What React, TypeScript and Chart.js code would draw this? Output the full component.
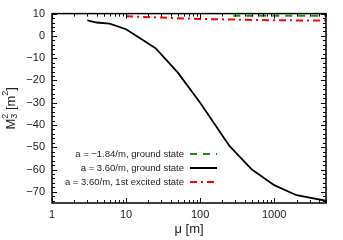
import { useEffect, useRef } from 'react';
import { Chart, registerables } from 'chart.js';
Chart.register(...registerables);

const muGreen = [280, 600, 1000, 2000, 5000];
const m2Green = [9.0, 9.0, 9.0, 9.0, 9.0];
const muBlack = [3, 4, 6, 10, 25, 50, 100, 250, 500, 1000, 2000, 5000];
const m2Black = [7, 6, 5.5, 3, -5.5, -16.5, -30, -49.5, -60, -67, -71.5, -74];
const muRed = [10, 30, 100, 300, 1000, 5000];
const m2Red = [8.8, 8.2, 7.6, 7.3, 7.0, 6.9];
const xTicks = [1, 10, 100, 1000];
const yTicks = [-70, -60, -50, -40, -30, -20, -10, 0, 10];
const legendLabels = [
  'a = \u22121.84/m, ground state',
  'a = 3.60/m, ground state',
  'a = 3.60/m, 1st excited state',
];
const colors = ['#1e8a1e', '#000000', '#ff0000'];
const dashes = [[7, 6], [], [7, 4, 2, 4]];

const FONT = '"Liberation Sans", Arial, sans-serif';

const pts = (xs: number[], ys: number[]) => xs.map((x, i) => ({ x, y: ys[i] }));

const deco = {
  id: 'deco',
  afterDraw(chart: any) {
    const { ctx, chartArea: a, scales } = chart;
    const xs = scales.x, ys = scales.y;
    ctx.save();
    ctx.strokeStyle = '#000';
    ctx.lineWidth = 1;
    const xt: [number, number][] = [];
    for (let d = 1; d <= 1000; d *= 10) {
      for (let k = 1; k <= 9; k++) {
        const v = d * k;
        if (v > 5000) break;
        xt.push([v, k === 1 ? 5 : 3]);
      }
    }
    ctx.beginPath();
    xt.forEach(([v, L]) => {
      const px = Math.round(xs.getPixelForValue(v)) + 0.5;
      ctx.moveTo(px, a.bottom); ctx.lineTo(px, a.bottom - L);
      ctx.moveTo(px, a.top); ctx.lineTo(px, a.top + L);
    });
    for (let v = -74; v <= 10; v += 2) {
      const L = v % 10 === 0 ? 5 : 3;
      const py = Math.round(ys.getPixelForValue(v)) + 0.5;
      ctx.moveTo(a.left, py); ctx.lineTo(a.left + L, py);
      ctx.moveTo(a.right, py); ctx.lineTo(a.right - L, py);
    }
    ctx.stroke();
    ctx.lineWidth = 1.5;
    ctx.strokeRect(a.left, a.top, a.right - a.left, a.bottom - a.top);
    // legend
    ctx.font = `9.5px ${FONT}`;
    ctx.fillStyle = '#222';
    ctx.textAlign = 'right';
    ctx.textBaseline = 'middle';
    const ly = [154, 168, 182];
    legendLabels.forEach((t, i) => {
      ctx.fillText(t, 184, ly[i]);
      ctx.save();
      ctx.strokeStyle = colors[i];
      ctx.lineWidth = 2;
      ctx.setLineDash(dashes[i]);
      ctx.beginPath();
      ctx.moveTo(190, ly[i]); ctx.lineTo(217, ly[i]);
      ctx.stroke();
      ctx.restore();
    });
    // x title
    ctx.font = `13px ${FONT}`;
    ctx.textAlign = 'center';
    ctx.fillText('\u03bc [m]', (a.left + a.right) / 2, 229);
    // y title
    ctx.translate(11, (a.top + a.bottom) / 2);
    ctx.rotate(-Math.PI / 2);
    ctx.textAlign = 'left';
    const big = `13px ${FONT}`, small = `9px ${FONT}`;
    ctx.font = big;
    const wM = ctx.measureText('M').width;
    ctx.font = small;
    const w2 = ctx.measureText('2').width;
    ctx.font = big;
    const wB = ctx.measureText(' [m').width;
    const wE = ctx.measureText(']').width;
    const total = wM + w2 + wB + w2 + wE;
    let x = -total / 2;
    ctx.fillText('M', x, 0); x += wM;
    ctx.font = small;
    ctx.fillText('2', x, -5);
    ctx.fillText('3', x, 4);
    x += w2;
    ctx.font = big;
    ctx.fillText(' [m', x, 0); x += wB;
    ctx.font = small;
    ctx.fillText('2', x, -5); x += w2;
    ctx.font = big;
    ctx.fillText(']', x, 0);
    ctx.restore();
  },
};

export default function App() {
  const ref = useRef<HTMLCanvasElement>(null);
  useEffect(() => {
    document.body.style.margin = '0';
    const chart = new Chart(ref.current!, {
      type: 'line',
      data: {
        datasets: [
          { data: pts(muGreen, m2Green), borderColor: colors[0], borderWidth: 2, borderDash: dashes[0], pointRadius: 0, tension: 0 },
          { data: pts(muBlack, m2Black), borderColor: colors[1], borderWidth: 1.8, pointRadius: 0, tension: 0 },
          { data: pts(muRed, m2Red), borderColor: colors[2], borderWidth: 2, borderDash: dashes[2], pointRadius: 0, tension: 0 },
        ],
      } as any,
      options: {
        animation: false,
        responsive: false,
        maintainAspectRatio: false,
        layout: { padding: { left: 0, right: 17, top: 9, bottom: 0 } },
        plugins: { legend: { display: false }, tooltip: { enabled: false } },
        scales: {
          x: {
            type: 'logarithmic',
            min: 1,
            max: 5000,
            grid: { display: false, drawTicks: false },
            border: { display: false },
            afterBuildTicks: (s: any) => { s.ticks = xTicks.map((v) => ({ value: v })); },
            afterFit: (s: any) => { s.height = 37; },
            ticks: {
              padding: 5,
              color: '#222',
              font: { family: FONT, size: 11 },
              maxRotation: 0,
              autoSkip: false,
              callback: (v: any) => String(v),
            },
          },
          y: {
            type: 'linear',
            min: -75,
            max: 10,
            grid: { display: false, drawTicks: false },
            border: { display: false },
            afterBuildTicks: (s: any) => { s.ticks = yTicks.map((v) => ({ value: v })); },
            afterFit: (s: any) => { s.width = 52; },
            ticks: {
              padding: 7,
              color: '#222',
              font: { family: FONT, size: 11 },
              autoSkip: false,
              callback: (v: any) => String(v).replace('-', '\u2212'),
            },
          },
        },
      } as any,
      plugins: [deco],
    });
    return () => chart.destroy();
  }, []);
  return (
    <div style={{ position: 'absolute', left: 0, top: 0, width: 343, height: 240 }}>
      <canvas ref={ref} width={343} height={240} style={{ width: 343, height: 240 }} />
    </div>
  );
}
